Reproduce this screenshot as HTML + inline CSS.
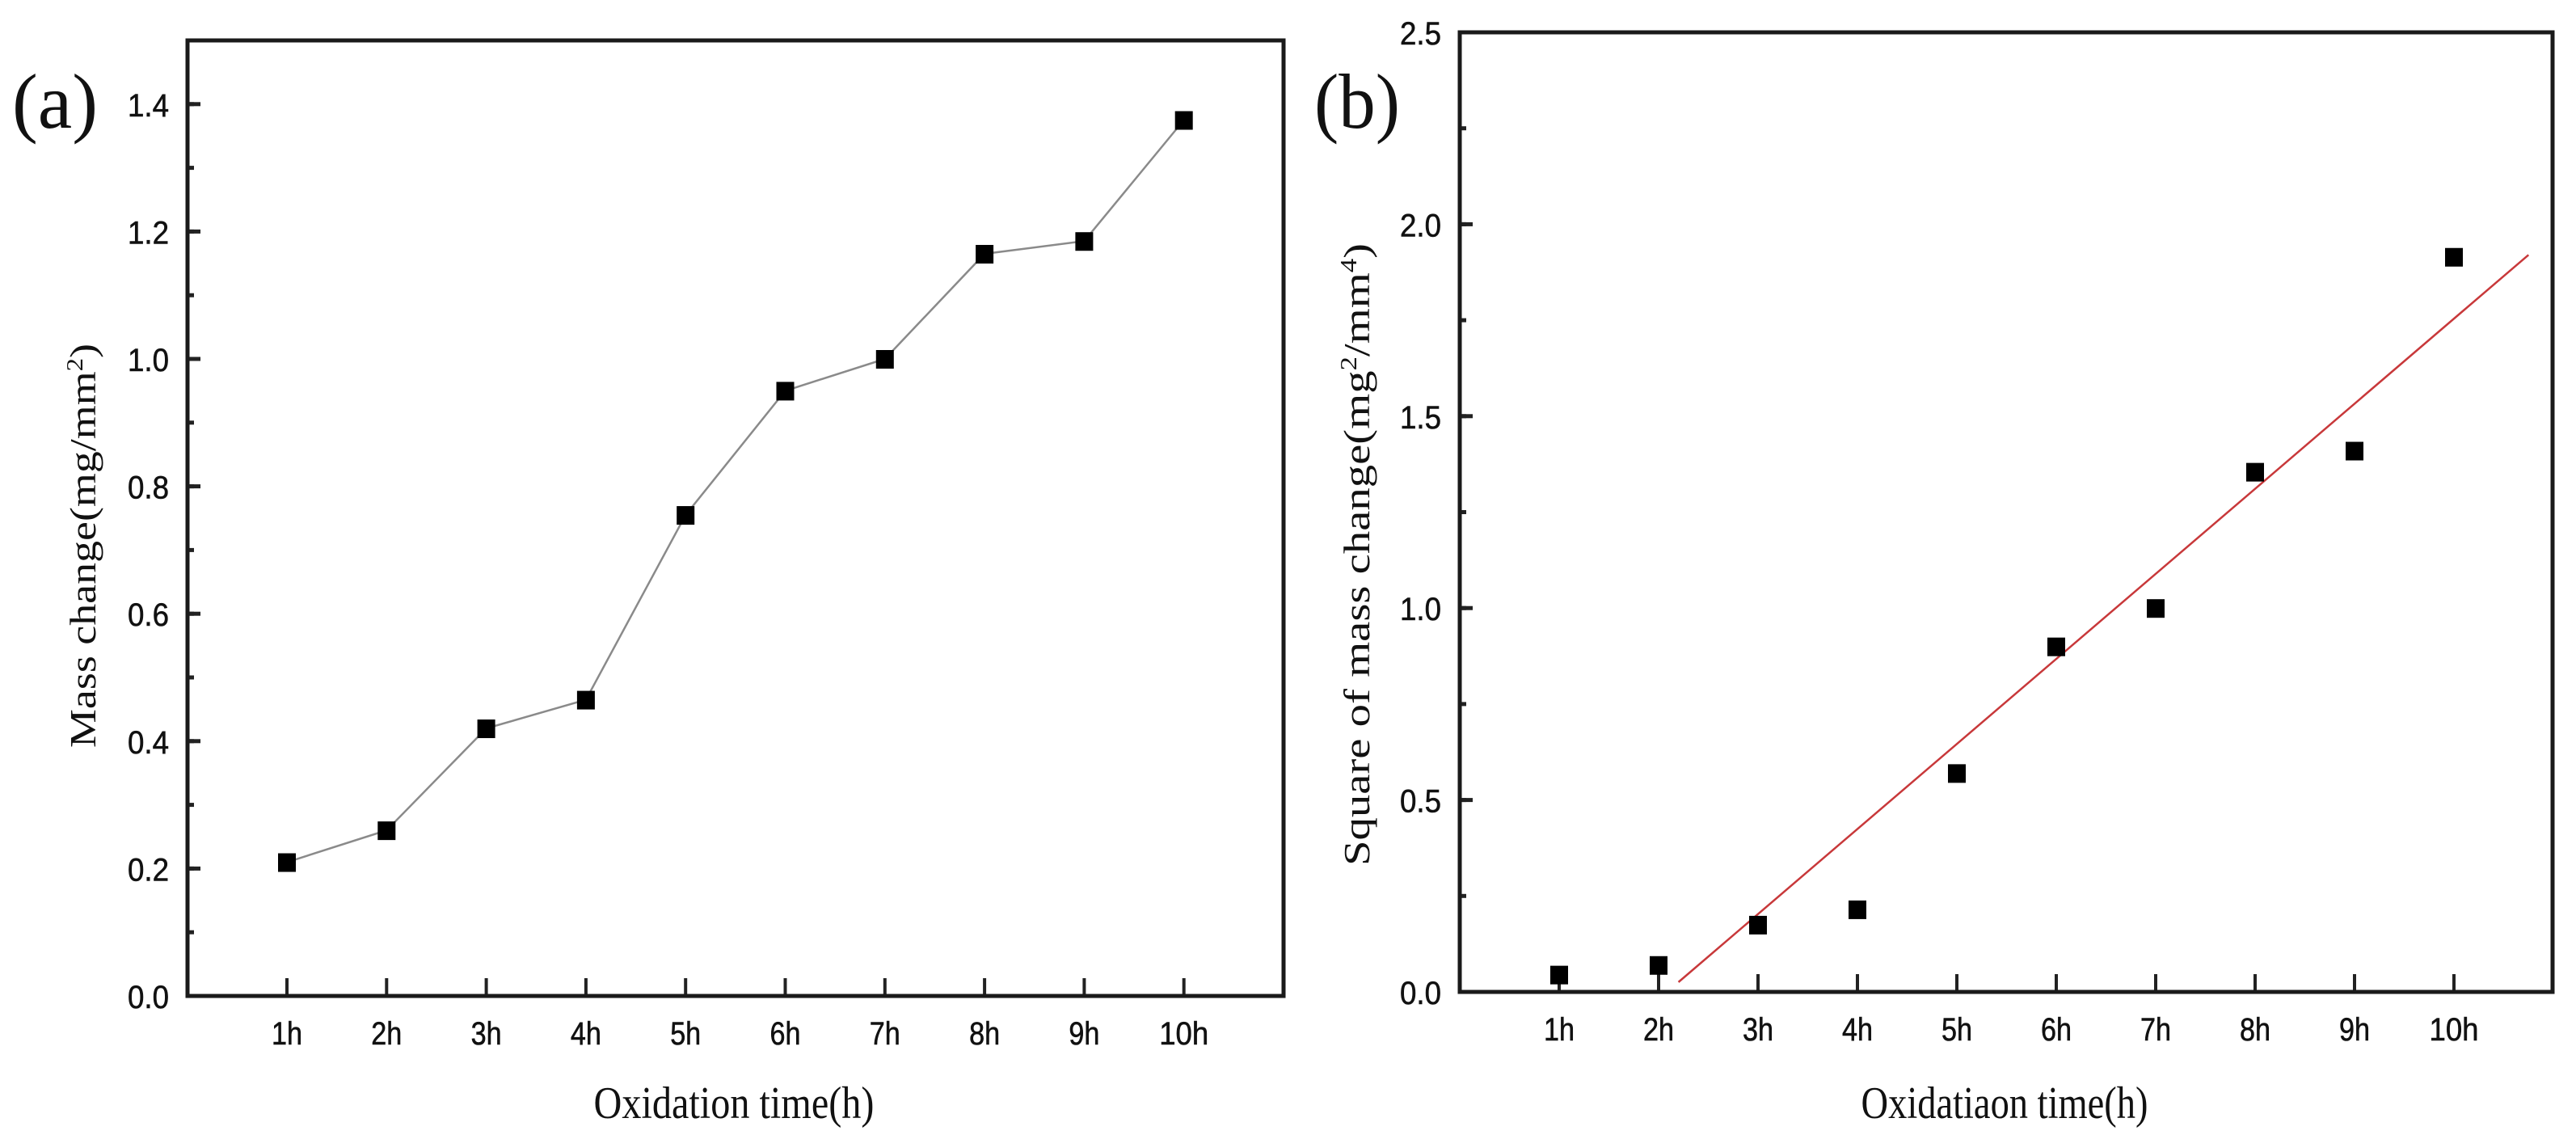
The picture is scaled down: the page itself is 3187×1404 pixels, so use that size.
<!DOCTYPE html>
<html><head><meta charset="utf-8"><style>
html,body{margin:0;padding:0;background:#fff;}
svg{display:block;}
.tk{font-family:"Liberation Sans",Arial,sans-serif;font-size:40px;fill:#111;stroke:#111;stroke-width:0.6;}
.ti{font-family:"Liberation Serif","Times New Roman",serif;fill:#111;}
</style></head><body>
<svg id="chart" width="3187" height="1404" viewBox="0 0 3187 1404" xmlns="http://www.w3.org/2000/svg">
<rect width="3187" height="1404" fill="#fff"/>
</svg>
<script>
const categories = ["1h","2h","3h","4h","5h","6h","7h","8h","9h","10h"];
const massChange = [0.21,0.26,0.42,0.465,0.755,0.95,1.0,1.165,1.185,1.375];
const squareMassChange = [0.045,0.07,0.175,0.215,0.57,0.9,1.0,1.355,1.41,1.915];
const yTicksA = [0.0,0.2,0.4,0.6,0.8,1.0,1.2,1.4];
const yTickLabelsA = ["0.0","0.2","0.4","0.6","0.8","1.0","1.2","1.4"];
const yTicksB = [0.0,0.5,1.0,1.5,2.0,2.5];
const yTickLabelsB = ["0.0","0.5","1.0","1.5","2.0","2.5"];
const fitSlope = 0.2216;
const fitIntercept = -0.462;
const fitRange = [2.2, 10.75];

const NS = "http://www.w3.org/2000/svg";
const svg = document.getElementById('chart');
function mk(tag, attrs, parent){ const e=document.createElementNS(NS,tag); for(const k in attrs) e.setAttribute(k,attrs[k]); (parent||svg).appendChild(e); return e; }

function panel(cfg){
  const g = mk('g',{});
  
  
  const L=cfg.left,R=cfg.right,T=cfg.top,B=cfg.bottom;
  const xs = i => cfg.x1 + (i-1)*cfg.dx;
  const ys = v => B - (v - 0)/(cfg.ymax)*(B-T);
  for(let v=0; v<=cfg.ymax+1e-9; v+=cfg.minor){
    const t = mk('line',{x1:L,x2:L+8,y1:ys(v),y2:ys(v),stroke:'#222','stroke-width':5},g);
    
    
  }
  cfg.yTicks.forEach((v,i)=>{
    const t = mk('line',{x1:L,x2:L+16,y1:ys(v),y2:ys(v),stroke:'#222','stroke-width':5},g);
    
    
    const tx = mk('text',{x:L-23,y:ys(v)+15,'text-anchor':'end','class':'tk',textLength:51,lengthAdjust:'spacingAndGlyphs'},g);
    tx.textContent = cfg.yLabels[i];
    
    
  });
  categories.forEach((c,i)=>{
    const x = xs(i+1);
    const t = mk('line',{x1:x,x2:x,y1:B,y2:B-22,stroke:'#222','stroke-width':4},g);
    
    
    const tx = mk('text',{x:x,y:B+60,'text-anchor':'middle','class':'tk',textLength:c.length>2?61:38,lengthAdjust:'spacingAndGlyphs'},g);
    tx.textContent = c;
    
    
  });
  const frame = mk('rect',{x:L,y:T,width:R-L,height:B-T,fill:'none',stroke:'#1a1a1a','stroke-width':5},g);
  
  
  if(cfg.line){
    const pts = cfg.values.map((v,i)=>xs(i+1)+','+ys(v)).join(' ');
    const pl = mk('polyline',{points:pts,fill:'none',stroke:'#8a8a8a','stroke-width':2.5},g);
    
    
  }
  if(cfg.fit){
    const fl = mk('line',{x1:xs(fitRange[0]),y1:ys(fitSlope*fitRange[0]+fitIntercept),x2:xs(fitRange[1]),y2:ys(fitSlope*fitRange[1]+fitIntercept),stroke:'#c8383a','stroke-width':2.5},g);
    
    
  }
  cfg.values.forEach((v,i)=>{
    const m = mk('rect',{x:xs(i+1)-11,y:ys(v)-11,width:22,height:23,fill:'#000'},g);
    
    
  });
  const yt = mk('text',{x:0,y:0,'class':'ti','font-size':cfg.ytSize,'text-anchor':'middle',textLength:cfg.ytLen,lengthAdjust:'spacingAndGlyphs',transform:'translate('+cfg.ytX+','+cfg.ytY+') rotate(-90)'},g);
  yt.innerHTML = cfg.ytHtml;
  
  
  const xt = mk('text',{x:cfg.xtX,y:1383,'class':'ti','font-size':56,'text-anchor':'middle',textLength:cfg.xtLen,lengthAdjust:'spacingAndGlyphs'},g);
  xt.textContent = cfg.xtText;
  
  
  const pl = mk('text',{x:cfg.plX,y:158,'class':'ti','font-size':96,textLength:106,lengthAdjust:'spacingAndGlyphs'},g);
  pl.textContent = cfg.panelLabel;
  
  
}

panel({name:'panel-a',left:232,right:1588,top:50,bottom:1232,x1:355,dx:123.3,ymax:1.5,minor:0.1,
  yTicks:yTicksA,yLabels:yTickLabelsA,values:massChange,line:true,fit:false,
  ytX:118,ytY:675,ytSize:46,ytLen:500,ytHtml:'Mass change(mg/mm<tspan dy="-16" font-size="28">2</tspan><tspan dy="16">)</tspan>',
  xtX:908,xtLen:347,xtText:'Oxidation time(h)',plX:15,panelLabel:'(a)'});
panel({name:'panel-b',left:1806,right:3158,top:40,bottom:1227,x1:1929,dx:123,ymax:2.5,minor:0.25,
  yTicks:yTicksB,yLabels:yTickLabelsB,values:squareMassChange,line:false,fit:true,
  ytX:1694,ytY:686,ytSize:46,ytLen:770,ytHtml:'Square of mass change(mg<tspan dy="-16" font-size="28">2</tspan><tspan dy="16">/mm</tspan><tspan dy="-16" font-size="28">4</tspan><tspan dy="16">)</tspan>',
  xtX:2480,xtLen:355,xtText:'Oxidatiaon time(h)',plX:1626,panelLabel:'(b)'});
</script>
</body></html>
